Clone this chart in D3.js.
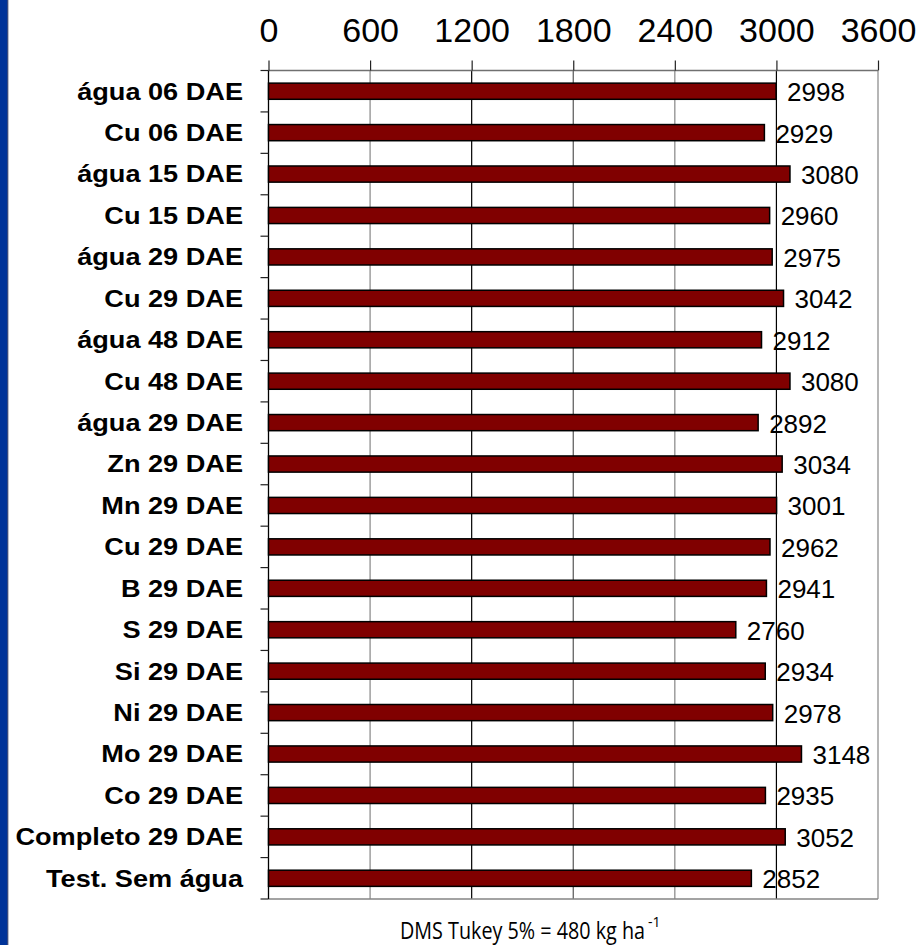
<!DOCTYPE html>
<html>
<head>
<meta charset="utf-8">
<script src="https://cdn.jsdelivr.net/npm/d3@7"></script>
<style>
  html, body { margin: 0; padding: 0; background: #fff; }
  svg { display: block; }
</style>
</head>
<body>
<svg id="chart" width="920" height="945"></svg>
<script>
// ---- data ----
const categories = [
  "água 06 DAE", "Cu 06 DAE", "água 15 DAE", "Cu 15 DAE", "água 29 DAE",
  "Cu 29 DAE", "água 48 DAE", "Cu 48 DAE", "água 29 DAE", "Zn 29 DAE",
  "Mn 29 DAE", "Cu 29 DAE", "B 29 DAE", "S 29 DAE", "Si 29 DAE",
  "Ni 29 DAE", "Mo 29 DAE", "Co 29 DAE", "Completo 29 DAE", "Test. Sem água"
];
const values = [
  2998, 2929, 3080, 2960, 2975,
  3042, 2912, 3080, 2892, 3034,
  3001, 2962, 2941, 2760, 2934,
  2978, 3148, 2935, 3052, 2852
];
const xTicks = [0, 600, 1200, 1800, 2400, 3000, 3600];
const footnote = "DMS Tukey 5% = 480 kg ha";
const footnoteSup = "-1";

// ---- layout ----
const svg = d3.select("#chart");
const pLeft = 268.5, pRight = 878, pTop = 70.5, pBottom = 899;
const font = "'Liberation Sans', Arial, Helvetica, sans-serif";

// blue strip at left edge
svg.append("rect").attr("x", 0).attr("y", 0).attr("width", 7.5).attr("height", 945).attr("fill", "#003399");
svg.append("line").attr("x1", 7.8).attr("x2", 7.8).attr("y1", 0).attr("y2", 945)
  .attr("stroke", "#1b2a5e").attr("stroke-width", 1);

const x = d3.scaleLinear().domain([0, 3600]).range([pLeft, pRight]);
const idx = d3.range(categories.length);
const y = d3.scaleBand().domain(idx).range([pTop, pBottom]).padding(0);
const barH = y.step() * 0.39;

// gridlines
const gridColor = d => (d === 1200 || d === 3000) ? "#000" : (d === 1800 ? "#555" : "#858585");
svg.append("g").selectAll("line").data(xTicks.filter(d => d > 0)).join("line")
  .attr("x1", d => x(d)).attr("x2", d => x(d))
  .attr("y1", pTop).attr("y2", pBottom)
  .attr("stroke", gridColor).attr("stroke-width", 1.2);

// top & bottom border
svg.append("line").attr("x1", pLeft).attr("x2", pRight).attr("y1", pTop).attr("y2", pTop)
  .attr("stroke", "#707070").attr("stroke-width", 1.5);
svg.append("line").attr("x1", pLeft).attr("x2", pRight).attr("y1", pBottom).attr("y2", pBottom)
  .attr("stroke", "#858585").attr("stroke-width", 1.5);

// top axis
const xAxis = d3.axisTop(x).tickValues(xTicks).tickSize(10).tickSizeOuter(0).tickPadding(19)
  .tickFormat(d3.format("d"));
const gx = svg.append("g").attr("transform", `translate(0,${pTop})`).call(xAxis);
gx.select(".domain").remove();
gx.selectAll(".tick line").attr("stroke", "#222").attr("stroke-width", 1.2);
gx.selectAll(".tick text").attr("fill", "#000").attr("font-family", font)
  .attr("font-size", 34).attr("dy", "0");

// left axis with ticks at band boundaries
svg.append("line").attr("x1", pLeft).attr("x2", pLeft).attr("y1", pTop).attr("y2", pBottom)
  .attr("stroke", "#000").attr("stroke-width", 1.3);
const boundaries = idx.map(i => y(i)).concat([pBottom]);
svg.append("g").selectAll("line").data(boundaries).join("line")
  .attr("x1", pLeft - 8).attr("x2", pLeft).attr("y1", d => d).attr("y2", d => d)
  .attr("stroke", "#222").attr("stroke-width", 1.2);

// bars
svg.append("g").selectAll("rect").data(values).join("rect")
  .attr("x", pLeft)
  .attr("y", (d, i) => y(i) + y.bandwidth() / 2 - barH / 2)
  .attr("width", d => x(d) - pLeft)
  .attr("height", barH)
  .attr("fill", "#800000")
  .attr("stroke", "#000")
  .attr("stroke-width", 1.5);

// value labels
svg.append("g").selectAll("text").data(values).join("text")
  .attr("x", d => x(d) + 11)
  .attr("y", (d, i) => y(i) + y.bandwidth() / 2 + 10)
  .attr("font-family", font).attr("font-size", 26).attr("fill", "#000")
  .text(d => d);

// category labels (horizontally stretched bold)
svg.append("g").selectAll("text").data(categories).join("text")
  .attr("transform", (d, i) => `translate(243,${y(i) + y.bandwidth() / 2 + 8.4}) scale(1.18,1)`)
  .attr("text-anchor", "end")
  .attr("font-family", font).attr("font-weight", "bold").attr("font-size", 23).attr("fill", "#000")
  .text(d => d);

// footnote (single text element with superscript tspan)
const fn = svg.append("text")
  .attr("x", 400).attr("y", 939)
  .attr("font-family", "'Open Sans', 'Noto Sans', sans-serif").attr("font-size", 23).attr("fill", "#000");
fn.append("tspan")
  .attr("textLength", 245).attr("lengthAdjust", "spacingAndGlyphs")
  .text(footnote);
fn.append("tspan")
  .attr("dx", 3).attr("dy", -12).attr("font-size", 14)
  .text(footnoteSup);
</script>
</body>
</html>
